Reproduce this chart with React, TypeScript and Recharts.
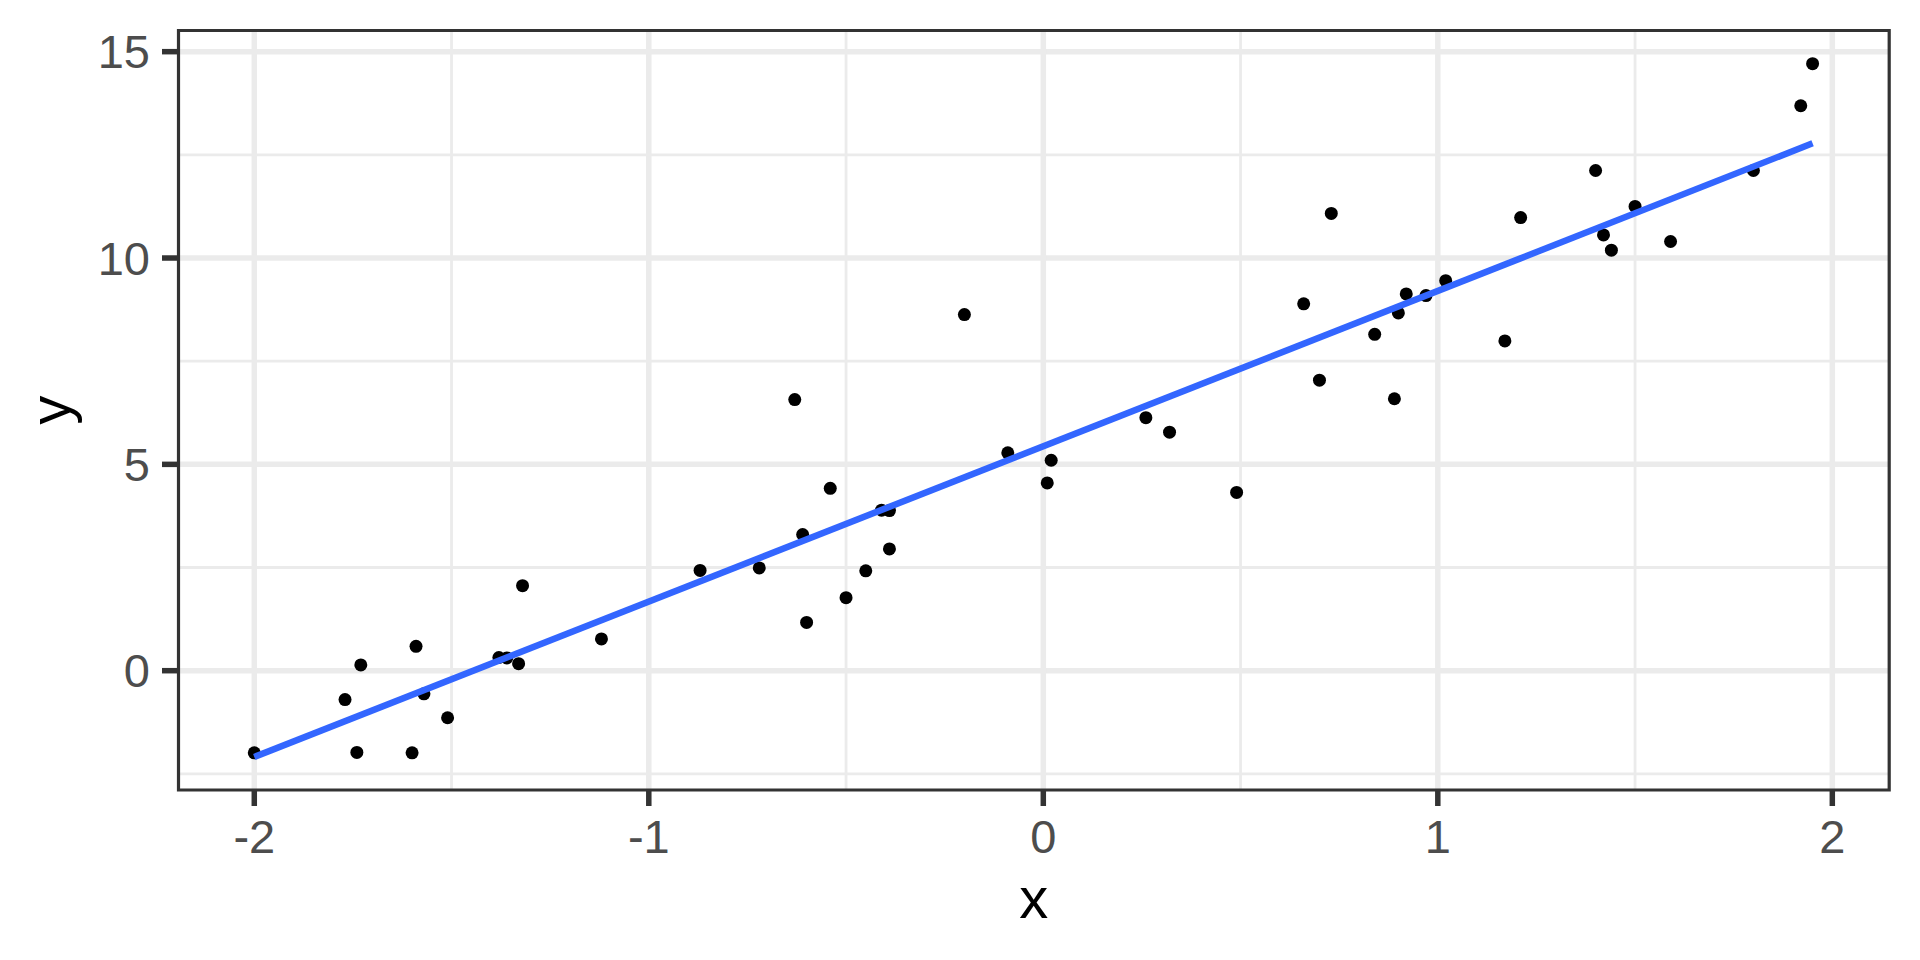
import React from 'react';
import { ScatterChart, Scatter, XAxis, YAxis, CartesianGrid, ReferenceArea, Label } from 'recharts';

// observed points
const xValues = [
  -2.0, -1.77, -1.74, -1.73, -1.6, -1.59, -1.57, -1.51, -1.38, -1.36,
  -1.33, -1.32, -1.12, -0.87, -0.72, -0.63, -0.61, -0.6, -0.54, -0.5,
  -0.45, -0.41, -0.39, -0.39, -0.2, -0.09, 0.01, 0.02, 0.26, 0.32,
  0.49, 0.66, 0.7, 0.73, 0.84, 0.89, 0.9, 0.92, 0.97, 1.02,
  1.17, 1.21, 1.4, 1.42, 1.44, 1.5, 1.59, 1.8, 1.92, 1.95,
];
const yValues = [
  -1.99, -0.7, -1.98, 0.14, -1.99, 0.59, -0.56, -1.14, 0.32, 0.31,
  0.17, 2.06, 0.77, 2.43, 2.49, 6.57, 3.3, 1.17, 4.42, 1.77,
  2.42, 3.89, 3.88, 2.95, 8.63, 5.28, 4.55, 5.1, 6.13, 5.78,
  4.32, 8.89, 7.04, 11.08, 8.15, 6.59, 8.67, 9.13, 9.09, 9.45,
  7.99, 10.98, 12.12, 10.56, 10.19, 11.25, 10.4, 12.12, 13.69, 14.71,
];

// fitted line ends
const fitX = [-2.0, 1.95];
const fitY = [-2.09, 12.78];

const xTicks = [-2, -1, 0, 1, 2];
const xMinor = [-1.5, -0.5, 0.5, 1.5];
const yTicks = [0, 5, 10, 15];
const yMinor = [-2.5, 2.5, 7.5, 12.5];
const xDomain = [-2.1921, 2.1442];
const yDomain = [-2.891, 15.513];

const points = xValues.map((x, i) => ({ x, y: yValues[i] }));
const fit = fitX.map((x, i) => ({ x, y: fitY[i] }));

const FONT = '"Liberation Sans", Arial, sans-serif';

const Dot = (props: any) => <circle cx={props.cx} cy={props.cy} r={6.5} fill="#000000" />;
const NoDot = () => null;

const XTitle = (props: any) => {
  const { viewBox } = props;
  const cx = viewBox.x + viewBox.width / 2;
  return (
    <text x={cx} y={918} textAnchor="middle" fontSize={58} fontFamily={FONT} fill="#000000">x</text>
  );
};

const YTitle = (props: any) => {
  const { viewBox } = props;
  const cy = viewBox.y + viewBox.height / 2;
  return (
    <text x={70} y={cy} transform={`rotate(-90, 70, ${cy})`} textAnchor="middle" fontSize={58} fontFamily={FONT} fill="#000000">y</text>
  );
};

export default function App() {
  return (
    <div style={{ position: 'absolute', left: 0, top: 0, width: 1920, height: 960, background: '#ffffff' }}>
      <ScatterChart width={1920} height={960} margin={{ top: 30.5, right: 30.8, bottom: 0, left: 0 }}>
        <CartesianGrid
          stroke="#EBEBEB"
          strokeWidth={2.8}
          horizontalValues={yMinor}
          verticalValues={xMinor}
        />
        <CartesianGrid
          stroke="#EBEBEB"
          strokeWidth={5.5}
          horizontalValues={yTicks}
          verticalValues={xTicks}
        />
        <XAxis
          type="number"
          dataKey="x"
          domain={xDomain}
          allowDataOverflow
          ticks={xTicks}
          height={170}
          axisLine={false}
          tickSize={16}
          tickMargin={13.6}
          tickLine={{ stroke: '#333333', strokeWidth: 5.5 }}
          tick={{ fill: '#4D4D4D', fontSize: 47, fontFamily: FONT }}
        >
          <Label content={<XTitle />} />
        </XAxis>
        <YAxis
          type="number"
          dataKey="y"
          domain={yDomain}
          allowDataOverflow
          ticks={yTicks}
          width={178.5}
          axisLine={false}
          tickSize={16.5}
          tickMargin={12}
          tickLine={{ stroke: '#333333', strokeWidth: 5.5 }}
          tick={{ fill: '#4D4D4D', fontSize: 47, fontFamily: FONT }}
        >
          <Label content={<YTitle />} />
        </YAxis>
        <Scatter data={points} shape={<Dot />} isAnimationActive={false} />
        <Scatter
          data={fit}
          shape={<NoDot />}
          line={{ stroke: '#3366FF', strokeWidth: 6.5 }}
          lineType="joint"
          isAnimationActive={false}
        />
        <ReferenceArea
          x1={xDomain[0]}
          x2={xDomain[1]}
          y1={yDomain[0]}
          y2={yDomain[1]}
          fill="none"
          fillOpacity={0}
          stroke="#333333"
          strokeWidth={3.2}
          ifOverflow="visible"
        />
      </ScatterChart>
    </div>
  );
}
